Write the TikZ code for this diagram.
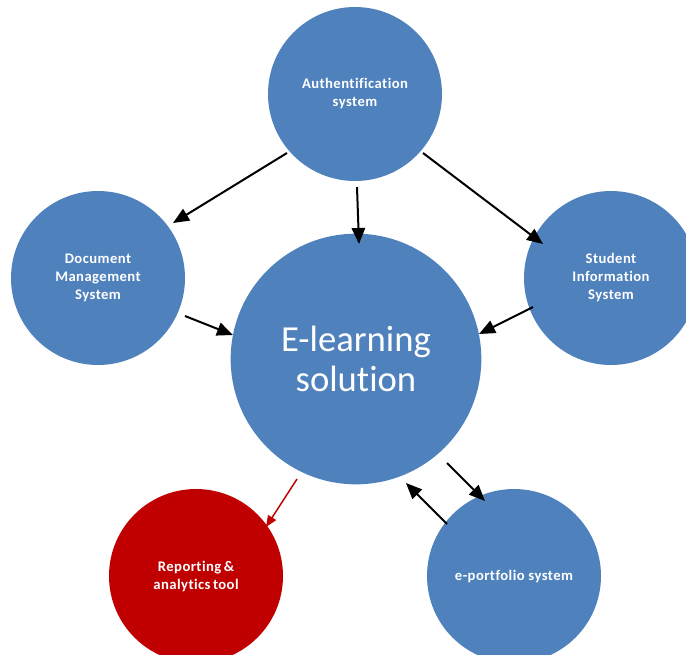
\documentclass[tikz,border=0pt]{standalone}
\usepackage{fontspec}
\setmainfont{Carlito}[Ligatures=NoCommon]
\newfontfamily\smallfont{Carlito}[Ligatures=NoCommon,LetterSpace=3]
\usetikzlibrary{arrows.meta}
\definecolor{bubble}{HTML}{4F81BD}
\definecolor{redbubble}{HTML}{C00000}
\begin{document}
\begin{tikzpicture}[x=0.75pt,y=-0.75pt,
  bubble/.style={circle,fill=bubble,draw=none,text=white,align=center,inner sep=0pt,
    minimum size=130.5pt,font=\smallfont\bfseries\fontsize{11}{13.5}\selectfont},
  bigbubble/.style={circle,fill=bubble,draw=none,text=white,align=center,inner sep=0pt,
    minimum size=188pt,font=\fontsize{27.5}{30}\selectfont},
  link/.style={line width=1.5pt,black,-{Triangle[length=12pt,width=10pt]}},
  redlink/.style={line width=1.1pt,redbubble,-{Triangle[length=8.5pt,width=7pt]}}]
\useasboundingbox (0,0) rectangle (686,654);
\clip (0,0) rectangle (686,654);
\node[bigbubble] (el) at (356,359) {E-learning\\solution};
\node[bubble] (auth) at (355,94) {Authentification\\system};
\node[bubble] (dms) at (98,278) {Document\\Management\\System};
\node[bubble] (sis) at (611,278) {Student\\Information\\System};
\node[bubble,fill=redbubble] (rep) at (196,576) {Reporting\,\&\\analytics\,tool};
\node[bubble] (ep) at (514,576) {e-portfolio system};
% arrow end points
\coordinate (a1s) at (287,153); \coordinate (a1e) at (173,223);
\coordinate (a2s) at (357,187); \coordinate (a2e) at (359,244);
\coordinate (a3s) at (423,153); \coordinate (a3e) at (543,244);
\coordinate (a4s) at (185,316); \coordinate (a4e) at (233,335);
\coordinate (a5s) at (533,307); \coordinate (a5e) at (479,334);
\coordinate (a6s) at (297,479); \coordinate (a6e) at (266,527);
\coordinate (a7s) at (447,463); \coordinate (a7e) at (485,501);
\coordinate (a8s) at (447,524); \coordinate (a8e) at (406,483);
\draw[link] (a1s) -- (a1e);
\draw[link] (a2s) -- (a2e);
\draw[link] (a3s) -- (a3e);
\draw[link] (a4s) -- (a4e);
\draw[link] (a5s) -- (a5e);
\draw[redlink] (a6s) -- (a6e);
\draw[link] (a7s) -- (a7e);
\draw[link] (a8s) -- (a8e);
\end{tikzpicture}
\end{document}
